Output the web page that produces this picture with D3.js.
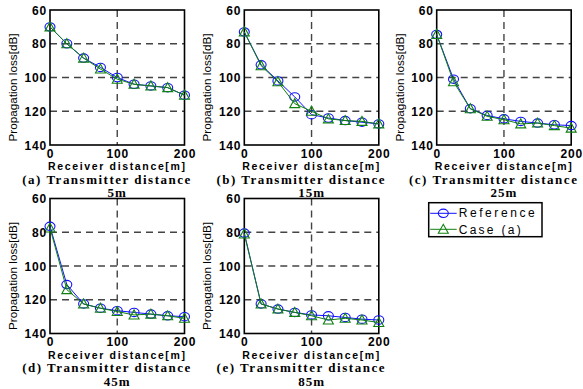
<!DOCTYPE html>
<html>
<head>
<meta charset="utf-8">
<script src="https://cdn.jsdelivr.net/npm/d3@7"></script>
<style>
  body { margin: 0; background: #fff; }
  svg { display: block; }
</style>
</head>
<body>
<script>
var svgWidth = 583;
var svgHeight = 389;

// receiver distance [m]
var distances = [0, 25, 50, 75, 100, 125, 150, 175, 200];

// propagation loss [dB]
var refA  = [70, 80, 88.5, 94, 100, 104, 105, 106, 110.5];
var caseA = [70, 80, 88.5, 95, 101, 104, 105, 106, 110.5];
var refB  = [73, 92.5, 102, 111.5, 122, 124, 125.5, 126.5, 127.5];
var caseB = [73, 93, 102.5, 115.5, 120, 124.5, 125.5, 126, 127.5];
var refC  = [74.5, 101, 118.5, 122.5, 124.5, 126, 127, 128, 128.5];
var caseC = [74.5, 102.5, 118.5, 123, 125, 127.5, 127, 128.5, 130];
var refD  = [76.5, 111, 122.5, 125, 126.5, 127.5, 128.5, 129.5, 130];
var caseD = [77.5, 114, 122.5, 125, 127, 129, 128.5, 129.5, 131];
var refE  = [80.5, 122.5, 125.5, 127.5, 129, 129.5, 130.5, 131.5, 132];
var caseE = [81, 122.5, 125.5, 127.5, 129.5, 132, 131, 132, 133.5];

var captions = ["(a) Transmitter distance", "(b) Transmitter distance", "(c) Transmitter distance",
                "(d) Transmitter distance", "(e) Transmitter distance"];
var txDistances = ["5m", "15m", "25m", "45m", "85m"];
var yTicks = [60, 80, 100, 120, 140];
var xTicks = [0, 100, 200];
var legendLabels = ["Reference", "Case (a)"];

var panels = [
    { ref: refA, cas: caseA, left: 50,    top: 10 },
    { ref: refB, cas: caseB, left: 244.3, top: 10 },
    { ref: refC, cas: caseC, left: 436.7, top: 10 },
    { ref: refD, cas: caseD, left: 50,    top: 198.5 },
    { ref: refE, cas: caseE, left: 244.3, top: 198.5 }
];

var plotWidth = 134.5;
var plotHeight = 135;
var blue = "#1010ff";
var green = "#108010";
var sans = "'Liberation Sans', Arial, sans-serif";
var serif = "'Liberation Serif', 'Times New Roman', serif";

var svg = d3.select("body")
    .append("svg")
    .attr("width", svgWidth)
    .attr("height", svgHeight);

function drawTriangle(g, cx, cy, color) {
    g.append("path")
        .attr("d", `M${cx - 5},${cy + 4}L${cx + 5},${cy + 4}L${cx},${cy - 5}Z`)
        .attr("fill", "none")
        .attr("stroke", color)
        .attr("stroke-width", 1.1);
}

panels.forEach(function(p, i) {
    var x = d3.scaleLinear().domain([0, 200]).range([0, plotWidth]);
    var y = d3.scaleLinear().domain([60, 140]).range([0, plotHeight]);

    var g = svg.append("g")
        .attr("transform", `translate(${p.left}, ${p.top})`);

    // grid
    g.selectAll(".hgrid")
        .data([80, 100, 120])
        .enter().append("line")
        .attr("x1", 0).attr("x2", plotWidth)
        .attr("y1", d => y(d)).attr("y2", d => y(d))
        .attr("stroke", "#444")
        .attr("stroke-width", 1.4)
        .attr("stroke-dasharray", "7,5");

    g.append("line")
        .attr("x1", x(100)).attr("x2", x(100))
        .attr("y1", 0).attr("y2", plotHeight)
        .attr("stroke", "#444")
        .attr("stroke-width", 1.4)
        .attr("stroke-dasharray", "7,5");

    // frame
    g.append("rect")
        .attr("width", plotWidth)
        .attr("height", plotHeight)
        .attr("fill", "none")
        .attr("stroke", "#000")
        .attr("stroke-width", 1.6);

    var line = d3.line()
        .x((d, j) => x(distances[j]))
        .y(d => y(d));

    g.append("path")
        .datum(p.ref)
        .attr("d", line)
        .attr("fill", "none")
        .attr("stroke", blue)
        .attr("stroke-width", 1);

    g.selectAll(".refpt")
        .data(p.ref)
        .enter().append("ellipse")
        .attr("cx", (d, j) => x(distances[j]))
        .attr("cy", d => y(d))
        .attr("rx", 5)
        .attr("ry", 4.2)
        .attr("fill", "none")
        .attr("stroke", blue)
        .attr("stroke-width", 1.1);

    g.append("path")
        .datum(p.cas)
        .attr("d", line)
        .attr("fill", "none")
        .attr("stroke", green)
        .attr("stroke-width", 1);

    p.cas.forEach(function(d, j) {
        drawTriangle(g, x(distances[j]), y(d), green);
    });

    // tick labels
    g.selectAll(".ytick")
        .data(yTicks)
        .enter().append("text")
        .attr("x", -3)
        .attr("y", d => y(d) + 4.5)
        .attr("text-anchor", "end")
        .style("font-family", sans)
        .style("font-weight", "bold")
        .style("font-size", "12px")
        .style("letter-spacing", "0.8px")
        .text(d => d);

    g.selectAll(".xtick")
        .data(xTicks)
        .enter().append("text")
        .attr("x", d => x(d) + 0.5)
        .attr("y", plotHeight + 12.5)
        .attr("text-anchor", "middle")
        .style("font-family", sans)
        .style("font-weight", "bold")
        .style("font-size", "12px")
        .style("letter-spacing", "0.8px")
        .text(d => d);

    // axis titles
    g.append("text")
        .attr("x", -2)
        .attr("y", plotHeight + 25)
        .attr("textLength", 137)
        .attr("lengthAdjust", "spacing")
        .style("font-family", sans)
        .style("font-size", "10.5px")
        .style("font-weight", "bold")
        .text("Receiver distance[m]");

    g.append("text")
        .attr("transform", `translate(-33, ${plotHeight / 2 + 10}) rotate(-90)`)
        .attr("text-anchor", "middle")
        .attr("textLength", 108)
        .attr("lengthAdjust", "spacingAndGlyphs")
        .style("font-family", sans)
        .style("font-size", "11px")
        .text("Propagation loss[dB]");

    // caption
    g.append("text")
        .attr("x", plotWidth / 2 - 11)
        .attr("y", plotHeight + 38.5)
        .attr("text-anchor", "middle")
        .attr("textLength", 168)
        .attr("lengthAdjust", "spacing")
        .style("font-family", serif)
        .style("font-weight", "bold")
        .style("font-size", "13px")
        .text(captions[i]);

    g.append("text")
        .attr("x", plotWidth / 2)
        .attr("y", plotHeight + 52)
        .attr("text-anchor", "middle")
        .style("font-family", serif)
        .style("font-weight", "bold")
        .style("font-size", "13px")
        .style("letter-spacing", "1px")
        .text(txDistances[i]);
});

// legend
var legend = svg.append("g")
    .attr("transform", "translate(428.7, 202.7)");

legend.append("rect")
    .attr("width", 113.3)
    .attr("height", 34)
    .attr("fill", "#fff")
    .attr("stroke", "#000")
    .attr("stroke-width", 1.5);

var legendColors = [blue, green];
legendLabels.forEach(function(label, i) {
    var ly = 10.6 + i * 16;
    legend.append("line")
        .attr("x1", 1.5).attr("x2", 28)
        .attr("y1", ly).attr("y2", ly)
        .attr("stroke", legendColors[i])
        .attr("stroke-width", 1);
    if (i === 0) {
        legend.append("ellipse")
            .attr("cx", 14.6).attr("cy", ly)
            .attr("rx", 5).attr("ry", 4.2)
            .attr("fill", "none")
            .attr("stroke", blue)
            .attr("stroke-width", 1.1);
    } else {
        drawTriangle(legend, 14.6, ly, green);
    }
    legend.append("text")
        .attr("x", 30)
        .attr("y", ly + 4 + i * 0.5)
        .attr("textLength", i === 0 ? 76 : 62)
        .attr("lengthAdjust", "spacing")
        .style("font-family", sans)
        .style("font-size", "12px")
        .text(label);
});
</script>
</body>
</html>
